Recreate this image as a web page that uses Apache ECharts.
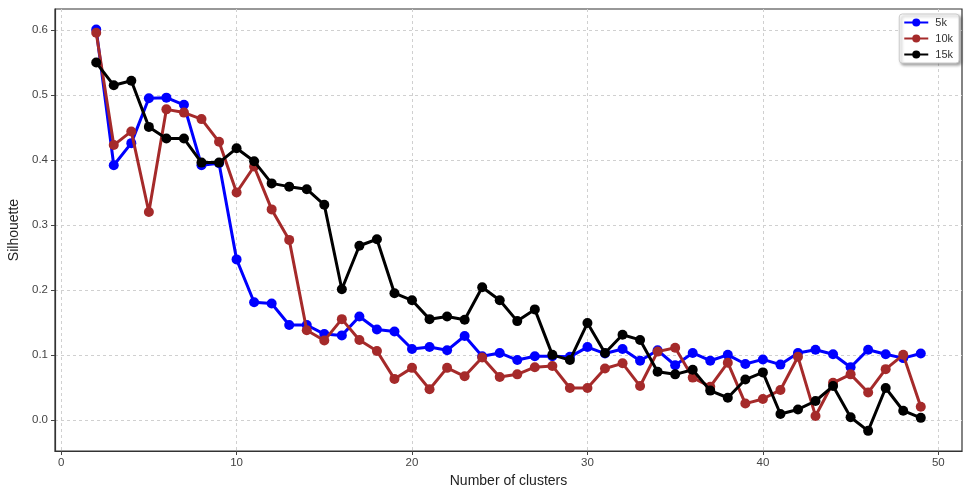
<!DOCTYPE html>
<html>
<head>
<meta charset="utf-8">
<script src="https://cdn.jsdelivr.net/npm/echarts@6/dist/echarts.min.js"></script>
<style>html,body{margin:0;padding:0;background:#fff}#c{width:967px;height:488px}</style>
</head>
<body>
<div id="c"></div>
<script>
const clusters = [2,3,4,5,6,7,8,9,10,11,12,13,14,15,16,17,18,19,20,21,22,23,24,25,26,27,28,29,30,31,32,33,34,35,36,37,38,39,40,41,42,43,44,45,46,47,48,49];
const sil5k = [0.601,0.392,0.426,0.495,0.496,0.485,0.392,0.395,0.247,0.181,0.179,0.146,0.146,0.132,0.130,0.159,0.139,0.136,0.109,0.112,0.107,0.129,0.098,0.103,0.092,0.098,0.098,0.097,0.112,0.102,0.109,0.091,0.107,0.084,0.103,0.091,0.100,0.086,0.093,0.085,0.103,0.108,0.101,0.081,0.108,0.101,0.095,0.102];
const sil10k = [0.596,0.423,0.444,0.320,0.478,0.473,0.463,0.428,0.350,0.390,0.324,0.277,0.138,0.122,0.155,0.123,0.106,0.063,0.080,0.047,0.080,0.067,0.096,0.066,0.070,0.081,0.083,0.049,0.049,0.079,0.087,0.052,0.105,0.111,0.065,0.051,0.088,0.025,0.032,0.046,0.097,0.006,0.057,0.070,0.042,0.078,0.100,0.020];
const sil15k = [0.550,0.515,0.522,0.451,0.433,0.433,0.396,0.396,0.418,0.398,0.364,0.359,0.355,0.331,0.201,0.268,0.278,0.195,0.184,0.155,0.159,0.154,0.204,0.184,0.152,0.170,0.100,0.092,0.149,0.103,0.131,0.123,0.074,0.070,0.077,0.045,0.034,0.062,0.073,0.009,0.016,0.029,0.052,0.004,-0.017,0.049,0.014,0.003];
const xTicks = [0,10,20,30,40,50];
const yTicks = [0,0.1,0.2,0.3,0.4,0.5,0.6];
const seriesNames = ['5k','10k','15k'];

const FONT = 'Liberation Sans';
const pairs = arr => clusters.map((c,i)=>[c,arr[i]]);
const colors = ['#0000ff','#a52a2a','#000000'];
const datasets = [sil5k, sil10k, sil15k];

const chart = echarts.init(document.getElementById('c'), null, {renderer:'canvas'});
chart.setOption({
  animation:false,
  backgroundColor:'#fff',
  textStyle:{fontFamily:FONT},
  grid:{left:55,right:5,top:9,bottom:37,containLabel:false,outerBoundsMode:'none',show:true,borderColor:'#333',borderWidth:1.2,backgroundColor:'transparent'},
  legend:{
    orient:'vertical', right:8, top:14,
    data:seriesNames,
    itemWidth:24, itemHeight:10, itemGap:5,
    padding:[3,6,3,4],
    backgroundColor:'#fff', borderColor:'#ccc', borderWidth:1, borderRadius:3,
    shadowColor:'rgba(0,0,0,0.35)', shadowBlur:3, shadowOffsetX:2, shadowOffsetY:2,
    textStyle:{fontFamily:FONT,fontSize:11,color:'#333',padding:[0,0,0,2]}
  },
  xAxis:{
    type:'value', min:-0.35, max:51.35,
    name:'Number of clusters', nameLocation:'middle', nameGap:22,
    nameTextStyle:{fontFamily:FONT,fontSize:14,color:'#222'},
    axisLine:{show:true,onZero:false,lineStyle:{color:'#333',width:1.2}},
    axisTick:{show:true,length:4,lineStyle:{color:'#444'},customValues:xTicks},
    axisLabel:{fontFamily:FONT,fontSize:11.5,color:'#444',margin:6,customValues:xTicks,showMinLabel:true,showMaxLabel:true},
    splitLine:{show:true,lineStyle:{color:'#d0d0d0',type:[3,3],width:1}}
  },
  yAxis:{
    type:'value', min:-0.048, max:0.6325,
    name:'Silhouette', nameLocation:'middle', nameGap:30,
    nameTextStyle:{fontFamily:FONT,fontSize:14,color:'#222'},
    axisLine:{show:true,onZero:false,lineStyle:{color:'#333',width:1.2}},
    axisTick:{show:true,length:4,lineStyle:{color:'#444'},customValues:yTicks},
    axisLabel:{fontFamily:FONT,fontSize:11.5,color:'#444',margin:7,customValues:yTicks,formatter:v=>v.toFixed(1)},
    splitLine:{show:true,lineStyle:{color:'#d0d0d0',type:[3,3],width:1}}
  },
  series: seriesNames.map((n,i)=>({
    name:n, type:'line', data:pairs(datasets[i]),
    symbol:'circle', symbolSize:10, showSymbol:true,
    lineStyle:{color:colors[i],width:3},
    itemStyle:{color:colors[i]},
    z:2+i
  }))
});
</script>
</body>
</html>
